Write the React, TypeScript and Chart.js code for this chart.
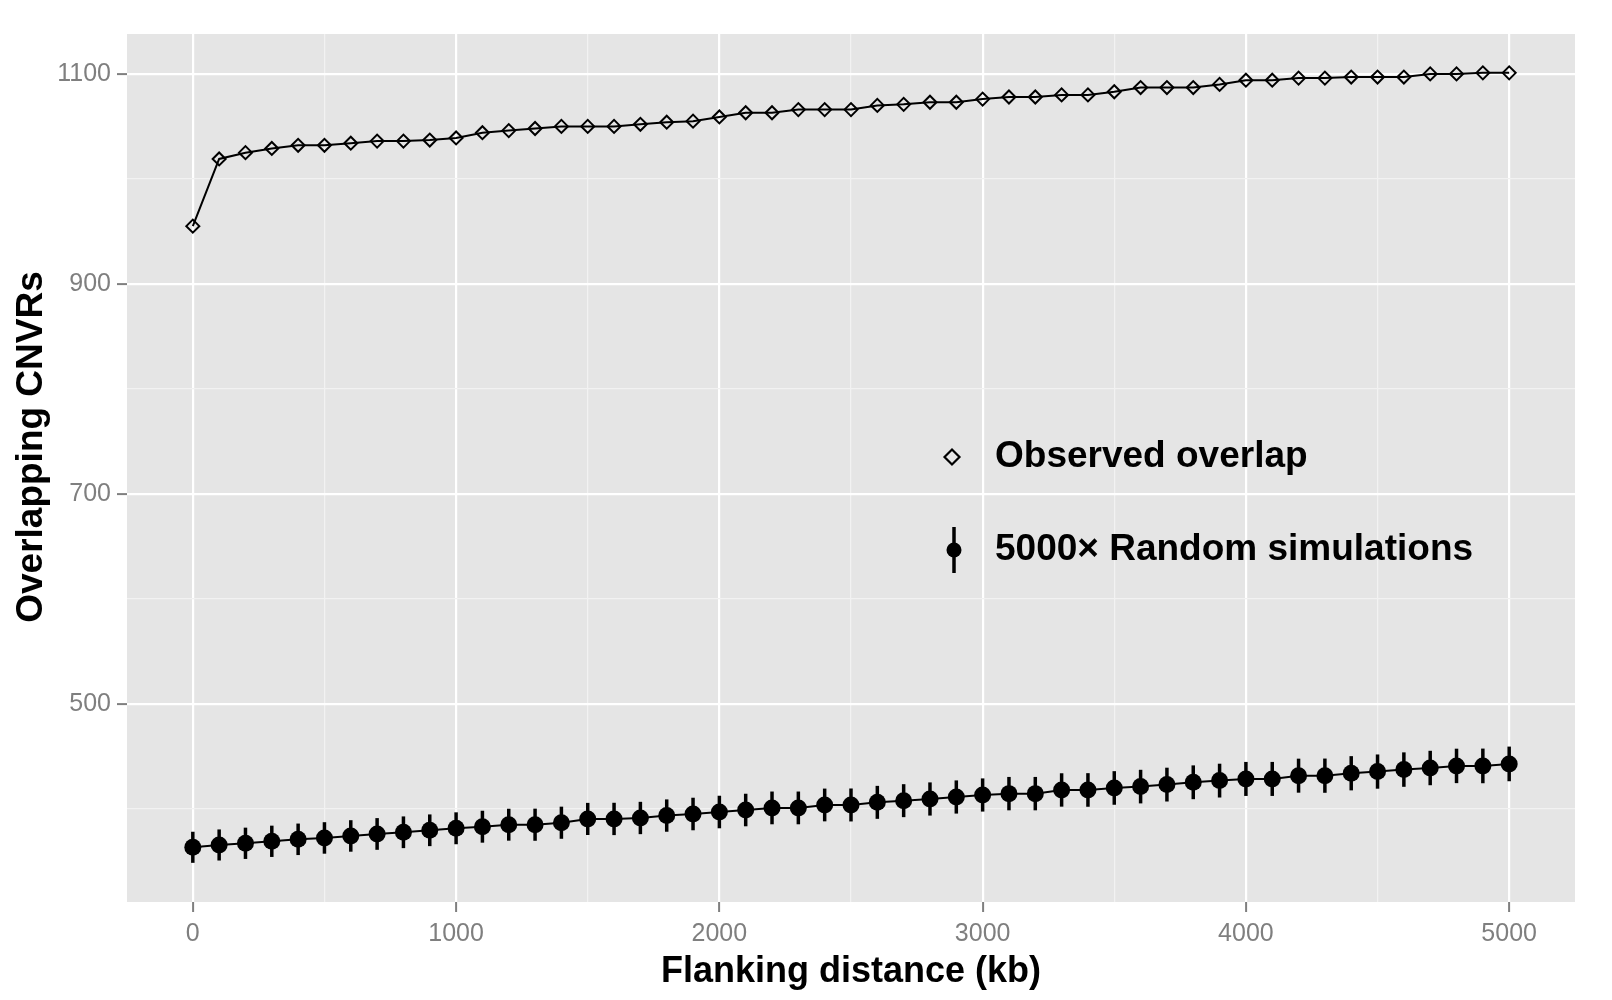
import React, { useEffect, useRef } from "react";
import { Chart, registerables } from "chart.js";

Chart.register(...registerables);

// ---------------- data ----------------
const DISTANCES = [
  0, 100, 200, 300, 400, 500, 600, 700, 800, 900,
  1000, 1100, 1200, 1300, 1400, 1500, 1600, 1700, 1800, 1900,
  2000, 2100, 2200, 2300, 2400, 2500, 2600, 2700, 2800, 2900,
  3000, 3100, 3200, 3300, 3400, 3500, 3600, 3700, 3800, 3900,
  4000, 4100, 4200, 4300, 4400, 4500, 4600, 4700, 4800, 4900,
  5000,
];

const OBSERVED = [
  955, 1019, 1025, 1029, 1032, 1032, 1034, 1036, 1036, 1037,
  1039, 1044, 1046, 1048, 1050, 1050, 1050, 1052, 1054, 1055,
  1059, 1063, 1063, 1066, 1066, 1066, 1070, 1071, 1073, 1073,
  1076, 1078, 1078, 1080, 1080, 1083, 1087, 1087, 1087, 1090,
  1094, 1094, 1096, 1096, 1097, 1097, 1097, 1100, 1100, 1101,
  1101,
];

const SIM_MEAN = [
  363.5, 365.7, 367.3, 369.2, 371.1, 372.4, 374.3, 376.2, 377.8, 379.7,
  381.6, 383.1, 385.0, 385.0, 386.9, 390.5, 390.5, 391.4, 393.7, 395.2,
  397.1, 399.0, 401.0, 401.0, 403.8, 403.8, 406.3, 407.9, 409.5, 411.4,
  413.3, 414.6, 414.6, 418.1, 418.1, 420.0, 421.3, 423.2, 425.4, 427.0,
  428.6, 428.6, 431.7, 431.7, 434.0, 435.6, 437.5, 439.0, 441.0, 441.0,
  442.9,
];

const SIM_ERR = [
  14.8, 14.8, 14.9, 14.9, 15.0, 15.0, 15.0, 15.1, 15.1, 15.1,
  15.2, 15.2, 15.2, 15.3, 15.3, 15.3, 15.4, 15.4, 15.4, 15.5,
  15.5, 15.5, 15.6, 15.6, 15.6, 15.7, 15.7, 15.7, 15.8, 15.8,
  15.8, 15.9, 15.9, 15.9, 16.0, 16.0, 16.0, 16.1, 16.1, 16.1,
  16.2, 16.2, 16.2, 16.3, 16.3, 16.3, 16.4, 16.4, 16.4, 16.5,
  16.5,
];

const X_MAJOR = [0, 1000, 2000, 3000, 4000, 5000];
const X_MINOR = [500, 1500, 2500, 3500, 4500];
const Y_MAJOR = [500, 700, 900, 1100];
const Y_MINOR = [400, 600, 800, 1000];

const SERIES_LABELS = ["Observed overlap", "5000\u00d7 Random simulations"];
const X_TITLE = "Flanking distance (kb)";
const Y_TITLE = "Overlapping CNVRs";

// ---------------- styles ----------------
const W = 1612;
const H = 1000;
const PANEL_BG = "#E5E5E5";
const TICK_GREY = "#7F7F7F";
const TICK_FONT = "'Liberation Sans Narrow', 'Liberation Sans', Arial, sans-serif";
const TITLE_FONT = "'Liberation Sans', Arial, sans-serif";

const panelBackground = {
  id: "panelBackground",
  beforeDraw(chart: any) {
    const { ctx, chartArea } = chart;
    ctx.save();
    ctx.fillStyle = "#ffffff";
    ctx.fillRect(0, 0, chart.width, chart.height);
    ctx.fillStyle = PANEL_BG;
    ctx.fillRect(chartArea.left, chartArea.top, chartArea.right - chartArea.left, chartArea.bottom - chartArea.top);
    ctx.restore();
  },
};

const errorBars = {
  id: "errorBars",
  beforeDatasetsDraw(chart: any) {
    const { ctx } = chart;
    const xs = chart.scales.x;
    const ys = chart.scales.y;
    ctx.save();
    ctx.strokeStyle = "#000";
    ctx.lineWidth = 3.5;
    ctx.lineCap = "butt";
    for (let i = 0; i < DISTANCES.length; i++) {
      const px = xs.getPixelForValue(DISTANCES[i]);
      const top = ys.getPixelForValue(SIM_MEAN[i] + SIM_ERR[i]);
      const bot = ys.getPixelForValue(SIM_MEAN[i] - SIM_ERR[i]);
      ctx.beginPath();
      ctx.moveTo(px, top);
      ctx.lineTo(px, bot);
      ctx.stroke();
    }
    ctx.restore();
  },
};

const yTitlePlugin = {
  id: "yTitlePlugin",
  afterDraw(chart: any) {
    const { ctx } = chart;
    ctx.save();
    ctx.translate(32, 447);
    ctx.rotate(-Math.PI / 2);
    ctx.font = `bold 37px ${TITLE_FONT}`;
    ctx.textAlign = "center";
    ctx.textBaseline = "middle";
    ctx.fillStyle = "#000";
    ctx.fillText(Y_TITLE, 0, 0);
    ctx.restore();
  },
};

const insideLegend = {
  id: "insideLegend",
  afterDraw(chart: any) {
    const { ctx } = chart;
    const symX = 952;
    const textX = 995;
    const row1 = 457;
    const row2 = 550;
    ctx.save();
    // diamond
    ctx.strokeStyle = "#000";
    ctx.lineWidth = 2.2;
    const r = 7.5;
    ctx.beginPath();
    ctx.moveTo(symX - r, row1);
    ctx.lineTo(symX, row1 - r);
    ctx.lineTo(symX + r, row1);
    ctx.lineTo(symX, row1 + r);
    ctx.closePath();
    ctx.stroke();
    // error bar + dot
    ctx.lineWidth = 3.5;
    ctx.beginPath();
    ctx.moveTo(symX + 2, row2 - 23);
    ctx.lineTo(symX + 2, row2 + 23);
    ctx.stroke();
    ctx.fillStyle = "#000";
    ctx.beginPath();
    ctx.arc(symX + 2, row2, 7.5, 0, Math.PI * 2);
    ctx.fill();
    // labels
    ctx.font = `bold 37px ${TITLE_FONT}`;
    ctx.textBaseline = "middle";
    ctx.textAlign = "left";
    ctx.fillStyle = "#000";
    ctx.fillText(SERIES_LABELS[0], textX, row1);
    ctx.fillText(SERIES_LABELS[1], textX, row2);
    ctx.restore();
  },
};

function gridColor(major: number[]) {
  return (c: any) => (c.tick && major.includes(c.tick.value) ? "#FFFFFF" : "#F2F2F2");
}
function gridWidth(major: number[]) {
  return (c: any) => (c.tick && major.includes(c.tick.value) ? 2.2 : 1.2);
}
function tickColor(major: number[]) {
  return (c: any) => (c.tick && major.includes(c.tick.value) ? TICK_GREY : "rgba(0,0,0,0)");
}

export default function App() {
  const canvasRef = useRef<HTMLCanvasElement | null>(null);

  useEffect(() => {
    if (!canvasRef.current) return;
    const chart = new Chart(canvasRef.current, {
      type: "line",
      data: {
        datasets: [
          {
            label: SERIES_LABELS[0],
            data: DISTANCES.map((x, i) => ({ x, y: OBSERVED[i] })),
            borderColor: "#000",
            borderWidth: 2,
            pointStyle: "rectRot",
            pointRadius: 6.5,
            pointBorderWidth: 2,
            pointBorderColor: "#000",
            pointBackgroundColor: "rgba(0,0,0,0)",
            tension: 0,
            fill: false,
          },
          {
            label: SERIES_LABELS[1],
            data: DISTANCES.map((x, i) => ({ x, y: SIM_MEAN[i] })),
            borderColor: "#000",
            borderWidth: 2,
            pointStyle: "circle",
            pointRadius: 8.5,
            pointBorderWidth: 0,
            pointBackgroundColor: "#000",
            tension: 0,
            fill: false,
          },
        ],
      },
      options: {
        animation: false,
        responsive: false,
        devicePixelRatio: 1,
        layout: { padding: { left: 0, top: 34, right: 37, bottom: 0 } },
        plugins: {
          legend: { display: false },
          tooltip: { enabled: false },
        },
        scales: {
          x: {
            type: "linear",
            min: -250,
            max: 5250,
            afterBuildTicks: (s: any) => {
              s.ticks = [...X_MAJOR, ...X_MINOR].sort((a, b) => a - b).map((v) => ({ value: v }));
            },
            afterFit: (s: any) => {
              s.height = 98;
            },
            border: { display: false },
            grid: {
              color: gridColor(X_MAJOR),
              lineWidth: gridWidth(X_MAJOR),
              drawTicks: true,
              tickLength: 10,
              tickColor: tickColor(X_MAJOR),
              tickWidth: 2,
            },
            ticks: {
              autoSkip: false,
              maxRotation: 0,
              padding: 7,
              color: TICK_GREY,
              font: { family: TICK_FONT, size: 25 },
              callback: (v: any) => (X_MAJOR.includes(Number(v)) ? String(v) : ""),
            },
            title: {
              display: true,
              text: X_TITLE,
              color: "#000",
              font: { family: TITLE_FONT, size: 36, weight: "bold", lineHeight: 1 },
              padding: { top: 0, bottom: 10 },
            },
          },
          y: {
            type: "linear",
            min: 311.4,
            max: 1138,
            afterBuildTicks: (s: any) => {
              s.ticks = [...Y_MAJOR, ...Y_MINOR].sort((a, b) => a - b).map((v) => ({ value: v }));
            },
            afterFit: (s: any) => {
              s.width = 127;
            },
            border: { display: false },
            grid: {
              color: gridColor(Y_MAJOR),
              lineWidth: gridWidth(Y_MAJOR),
              drawTicks: true,
              tickLength: 10,
              tickColor: tickColor(Y_MAJOR),
              tickWidth: 2,
            },
            ticks: {
              autoSkip: false,
              padding: 6,
              color: TICK_GREY,
              font: { family: TICK_FONT, size: 25 },
              callback: (v: any) => (Y_MAJOR.includes(Number(v)) ? String(v) : ""),
            },
            title: { display: false },
          },
        },
      } as any,
      plugins: [panelBackground, errorBars, yTitlePlugin, insideLegend],
    });
    return () => chart.destroy();
  }, []);

  return (
    <div style={{ position: "absolute", left: 0, top: 0, width: W, height: H, background: "#fff" }}>
      <canvas ref={canvasRef} width={W} height={H} style={{ display: "block", width: W, height: H }} />
    </div>
  );
}
